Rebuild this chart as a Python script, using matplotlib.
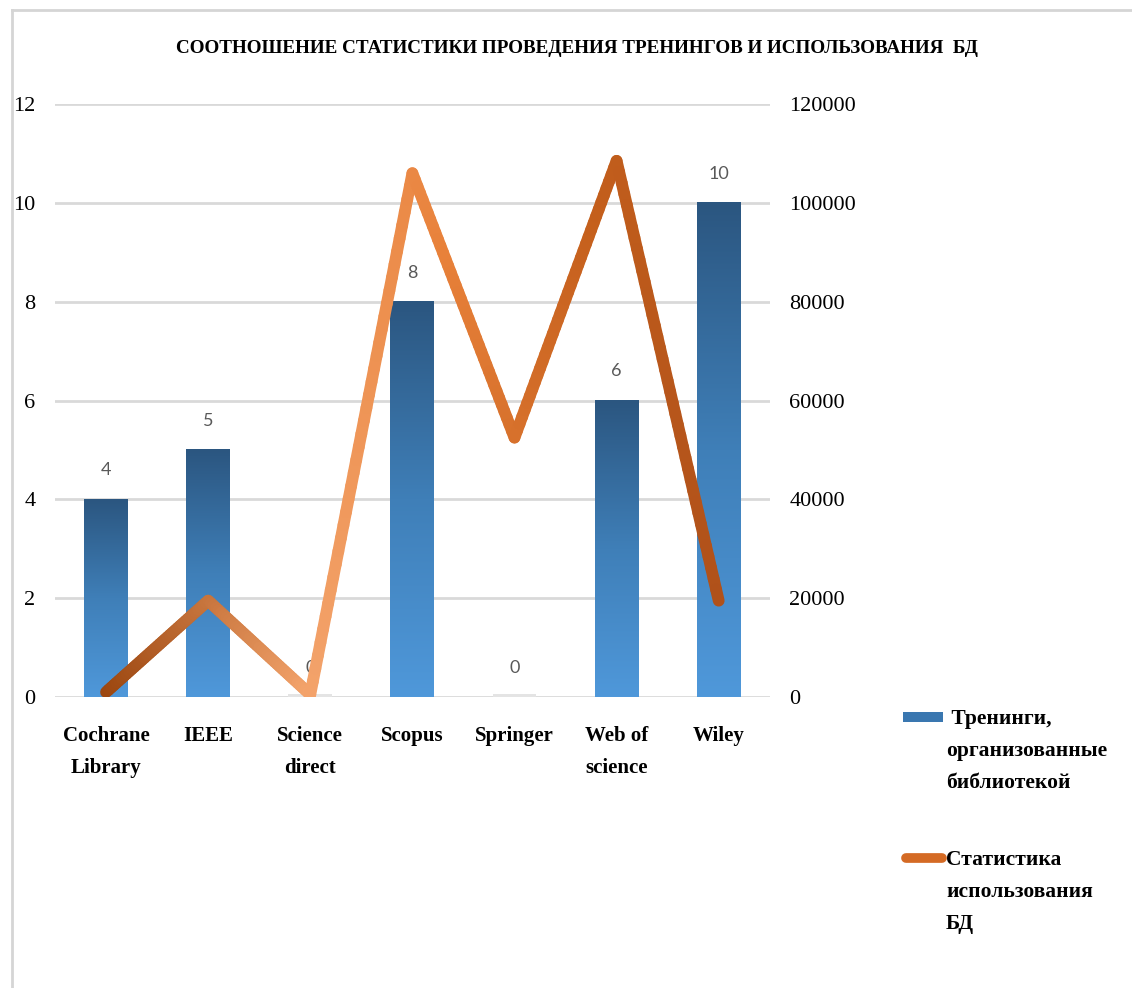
import numpy as np
import matplotlib
matplotlib.use("Agg")
import matplotlib.pyplot as plt
from matplotlib.collections import LineCollection
from matplotlib.colors import LinearSegmentedColormap
from matplotlib.patches import Rectangle
from matplotlib.lines import Line2D

plt.rcParams['font.family'] = ['Liberation Serif', 'DejaVu Serif']

categories = ["Cochrane\nLibrary", "IEEE", "Science\ndirect", "Scopus", "Springer", "Web of\nscience", "Wiley"]
trainings = [4, 5, 0, 8, 0, 6, 10]
usage = [1000, 19500, 500, 106000, 52500, 108500, 19500]
left_ticks = [0, 2, 4, 6, 8, 10, 12]
right_ticks = [0, 20000, 40000, 60000, 80000, 100000, 120000]
title = "СООТНОШЕНИЕ СТАТИСТИКИ ПРОВЕДЕНИЯ ТРЕНИНГОВ И ИСПОЛЬЗОВАНИЯ  БД"
label_bar = " Тренинги,\nорганизованные\nбиблиотекой"
label_line = "Статистика\nиспользования\nБД"

W, H = 1132, 988
fig = plt.figure(figsize=(W / 100, H / 100), dpi=100)
ax = fig.add_axes([0.0486, 0.2945, 0.6314, 0.6002])
ax2 = ax.twinx()
ax.set_zorder(1)
ax2.set_zorder(2)
ax.patch.set_visible(False)

x = np.arange(len(categories))
bar_cmap = LinearSegmentedColormap.from_list("bars", ["#4f98da", "#3f7fb8", "#2b5680"])
bars = ax.bar(x, trainings, width=0.43, color="none", edgecolor="none", zorder=3)
grad = np.linspace(0, 1, 256).reshape(-1, 1)
for b in bars:
    bx, by, bw, bh = b.get_x(), b.get_y(), b.get_width(), b.get_height()
    if bh > 0:
        ax.imshow(grad, extent=[bx, bx + bw, by, by + bh], origin="lower",
                  aspect="auto", cmap=bar_cmap, zorder=3)
    else:
        ax.add_patch(Rectangle((bx, 0), bw, 0.06, color="#e4e4e4", zorder=3, lw=0))

for xi, v in zip(x, trainings):
    ax.annotate(str(v), (xi, v), xytext=(0, 21), textcoords="offset points",
                ha="center", va="center", fontsize=13, color="#595959",
                family=["Lato", "DejaVu Sans"])

ax.set_xlim(-0.5, len(categories) - 0.5)
ax.set_ylim(0, 12)
ax.set_yticks(left_ticks)
ax.set_yticklabels([str(t) for t in left_ticks], fontsize=16)
ax.set_xticks(x)
ax.set_xticklabels(categories, fontsize=15, fontweight="bold", linespacing=1.8)
ax.tick_params(axis="both", length=0)
ax.tick_params(axis="x", pad=21)
ax.tick_params(axis="y", pad=14)
ax.grid(axis="y", color="#d9d9d9", linewidth=2, zorder=0)
ax.set_axisbelow(True)
for s in ax.spines.values():
    s.set_visible(False)

# gradient line on secondary axis
ax2.set_ylim(0, 120000)
ax2.set_yticks(right_ticks)
ax2.set_yticklabels([str(t) for t in right_ticks], fontsize=16)
ax2.tick_params(axis="y", length=0, pad=14)
for s in ax2.spines.values():
    s.set_visible(False)

line_cmap = LinearSegmentedColormap.from_list(
    "line", [(0, "#9c4710"), (0.33, "#f3a36b"), (0.55, "#e8813a"), (0.8, "#c45f1c"), (1, "#b0511a")])
n = 40
xs, ys = [], []
for i in range(len(x) - 1):
    t = np.linspace(0, 1, n, endpoint=False)
    xs.append(x[i] + (x[i + 1] - x[i]) * t)
    ys.append(usage[i] + (usage[i + 1] - usage[i]) * t)
xs = np.concatenate(xs + [[x[-1]]])
ys = np.concatenate(ys + [[usage[-1]]])
pts = np.column_stack([xs, ys]).reshape(-1, 1, 2)
segs = np.concatenate([pts[:-1], pts[1:]], axis=1)
lc = LineCollection(segs, cmap=line_cmap, linewidths=8.5, capstyle="round", joinstyle="round")
lc.set_array(xs[:-1] / x[-1])
lc.set_clim(0, 1)
ax2.add_collection(lc)
ax2.set_xlim(-0.5, len(categories) - 0.5)

fig.text(577 / W, 0.951, title, ha="center", va="center", fontsize=13.8, fontweight="bold")

# legend, drawn by hand so the keys sit on the first line of each label
fig.add_artist(Rectangle((903 / W, 1 - 722 / H), 40 / W, 10 / H, transform=fig.transFigure,
                         facecolor="#3a77b0", edgecolor="none"))
fig.add_artist(Line2D([906 / W, 942 / W], [1 - 858 / H] * 2, transform=fig.transFigure,
                      color="#d46a24", lw=7, solid_capstyle="round"))
fig.text(946 / W, 1 - 709 / H, label_bar, ha="left", va="top", fontsize=15.5,
         fontweight="bold", linespacing=1.8)
fig.text(946 / W, 1 - 850 / H, label_line, ha="left", va="top", fontsize=15.5,
         fontweight="bold", linespacing=1.8)

# screenshot frame: top and left edges only
fig.add_artist(Line2D([12 / W, 1], [1 - 10 / H] * 2, transform=fig.transFigure,
                      color="#d5d5d5", lw=2))
fig.add_artist(Line2D([12 / W] * 2, [0, 1 - 10 / H], transform=fig.transFigure,
                      color="#d5d5d5", lw=2))

plt.savefig("out.png", dpi=100)
